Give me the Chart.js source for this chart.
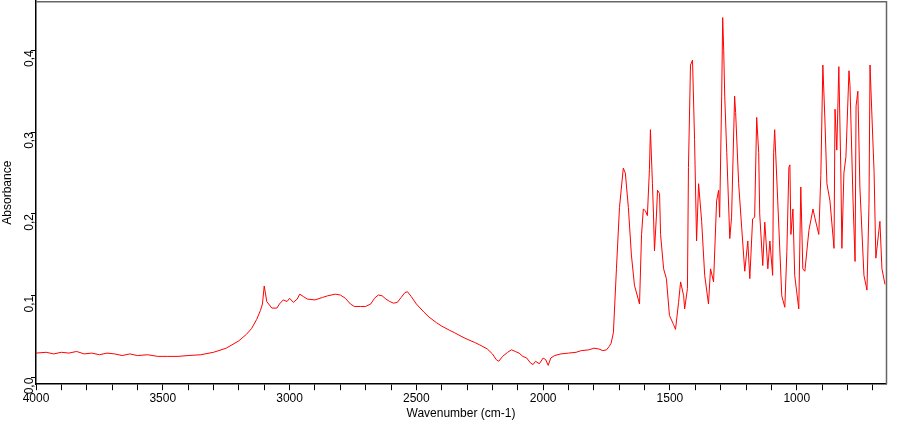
<!DOCTYPE html>
<html>
<head>
<meta charset="utf-8">
<script src="https://cdn.jsdelivr.net/npm/chart.js@4.4.0/dist/chart.umd.min.js"></script>
<style>
  html, body { margin: 0; padding: 0; background: #fff; overflow: hidden; }
  #wrap { width: 900px; height: 432px; margin-top: -7px; }
</style>
</head>
<body>
<div id="wrap"><canvas id="spec"></canvas></div>
<script>
// wavenumber (cm-1) and absorbance
const wavenumbers = [
  4000,3960,3930,3900,3870,3840,3810,3780,3750,3720,3690,3660,3630,3600,3560,3520,3480,3440,3400,3350,
  3300,3250,3200,3170,3150,3130,3115,3107,3100,3090,3070,3050,3040,3025,3010,3000,2985,2970,2960,2945,
  2930,2900,2870,2850,2820,2800,2780,2760,2745,2720,2700,2680,2665,2650,2635,2620,2605,2590,2575,2560,
  2545,2535,2520,2500,2470,2450,2420,2400,2370,2350,2320,2300,2270,2250,2220,2200,2185,2175,2160,2140,
  2125,2110,2095,2080,2065,2050,2040,2030,2015,2000,1990,1980,1970,1955,1930,1900,1870,1850,1820,1800,
  1780,1765,1750,1740,1732,1723,1711,1699,1684,1676,1664,1652,1640,1620,1612,1605,1597,1589,1581,1577,
  1569,1565,1561,1553,1549,1541,1537,1525,1514,1502,1486,1478,1466,1458,1446,1442,1431,1427,1419,1411,
  1403,1395,1387,1375,1363,1348,1340,1328,1316,1308,1304,1296,1292,1288,1284,1276,1264,1257,1245,1241,
  1229,1217,1205,1193,1185,1174,1166,1158,1150,1146,1134,1126,1114,1106,1095,1091,1087,1075,1059,1047,
  1039,1031,1027,1023,1015,1008,992,984,976,968,952,936,929,913,905,897,889,881,869,853,
  849,842,834,826,822,814,806,794,790,778,770,766,759,751,735,723,715,711,703,695,
  688,676,672,664,652
];
const absorbance = [
  0.030,0.031,0.029,0.031,0.030,0.032,0.029,0.030,0.028,0.030,0.029,0.027,0.029,0.027,0.028,0.026,0.026,0.026,0.027,0.028,
  0.031,0.036,0.045,0.053,0.060,0.071,0.082,0.090,0.112,0.093,0.085,0.085,0.090,0.095,0.093,0.097,0.092,0.096,0.102,0.099,
  0.096,0.095,0.098,0.100,0.102,0.101,0.097,0.090,0.087,0.087,0.087,0.090,0.097,0.101,0.100,0.096,0.093,0.091,0.092,0.098,
  0.104,0.105,0.099,0.090,0.080,0.074,0.067,0.063,0.058,0.055,0.050,0.047,0.043,0.040,0.035,0.029,0.022,0.020,0.026,0.031,
  0.034,0.032,0.030,0.026,0.024,0.018,0.016,0.020,0.017,0.024,0.022,0.015,0.024,0.027,0.029,0.030,0.031,0.033,0.034,0.036,
  0.035,0.033,0.034,0.038,0.042,0.055,0.133,0.208,0.256,0.250,0.208,0.150,0.113,0.090,0.175,0.206,0.204,0.198,0.254,0.303,
  0.237,0.200,0.155,0.200,0.229,0.225,0.175,0.133,0.121,0.076,0.065,0.059,0.092,0.117,0.100,0.084,0.109,0.257,0.382,0.388,
  0.291,0.167,0.237,0.191,0.125,0.090,0.133,0.117,0.216,0.229,0.196,0.344,0.440,0.400,0.344,0.275,0.170,0.196,0.344,0.324,
  0.237,0.183,0.130,0.167,0.121,0.194,0.196,0.318,0.275,0.200,0.137,0.190,0.133,0.167,0.125,0.275,0.303,0.216,0.100,0.086,
  0.154,0.257,0.260,0.175,0.206,0.125,0.084,0.233,0.133,0.130,0.180,0.206,0.196,0.175,0.247,0.382,0.316,0.237,0.216,0.158,
  0.328,0.278,0.380,0.250,0.158,0.250,0.270,0.375,0.357,0.216,0.142,0.332,0.350,0.233,0.125,0.107,0.213,0.382,0.316,0.251,
  0.146,0.180,0.191,0.133,0.114
];
const xTicks = [4000, 3500, 3000, 2500, 2000, 1500, 1000];
const yTicks = [0.0, 0.1, 0.2, 0.3, 0.4];

const points = wavenumbers.map((w, i) => ({ x: w, y: absorbance[i] }));

const frame = {
  id: 'frame',
  afterDraw(c) {
    const a = c.chartArea, ctx = c.ctx;
    ctx.save();
    ctx.strokeStyle = '#666';
    ctx.lineWidth = 1.5;
    ctx.beginPath();
    ctx.moveTo(a.left, a.top + 0.5);
    ctx.lineTo(a.right + 0.5, a.top + 0.5);
    ctx.lineTo(a.right + 0.5, a.bottom);
    ctx.stroke();
    ctx.restore();
  }
};

new Chart(document.getElementById('spec'), {
  type: 'line',
  data: { datasets: [{ data: points, borderColor: '#ff0000', borderWidth: 1, pointRadius: 0, tension: 0, fill: false }] },
  options: {
    responsive: true, maintainAspectRatio: false, animation: false,
    layout: { padding: { top: 3, right: 14 } },
    plugins: { legend: { display: false }, tooltip: { enabled: false } },
    scales: {
      x: {
        type: 'linear', reverse: true, min: 648, max: 4000,
        afterBuildTicks: s => {
          const t = [];
          for (let v = 4000; v >= 700; v -= 100) t.push({ value: v });
          s.ticks = t;
        },
        ticks: {
          color: '#000', font: { family: 'Liberation Sans', size: 12 }, padding: 1,
          maxRotation: 0, autoSkip: false,
          callback: v => (xTicks.includes(v) ? String(v) : '')
        },
        grid: { display: true, drawOnChartArea: false, color: '#000', tickLength: 6 },
        border: { color: '#000', width: 1.5 },
        title: { display: true, text: 'Wavenumber (cm-1)', color: '#000', font: { family: 'Liberation Sans', size: 12 }, padding: { top: 0 } }
      },
      y: {
        min: -0.008, max: 0.46,
        afterBuildTicks: s => { s.ticks = yTicks.map(v => ({ value: v })); },
        afterFit: s => { s.width = 36; },
        ticks: {
          color: '#000', font: { family: 'Liberation Sans', size: 12 }, padding: 1,
          minRotation: 90, maxRotation: 90,
          callback: v => v.toFixed(1).replace('.', ',')
        },
        grid: { display: true, drawOnChartArea: false, color: '#000', tickLength: 5 },
        border: { color: '#000', width: 1.5 },
        title: { display: true, text: 'Absorbance', color: '#000', font: { family: 'Liberation Sans', size: 12 }, padding: { top: 0, bottom: 0 } }
      }
    }
  },
  plugins: [frame]
});
</script>
</body>
</html>
